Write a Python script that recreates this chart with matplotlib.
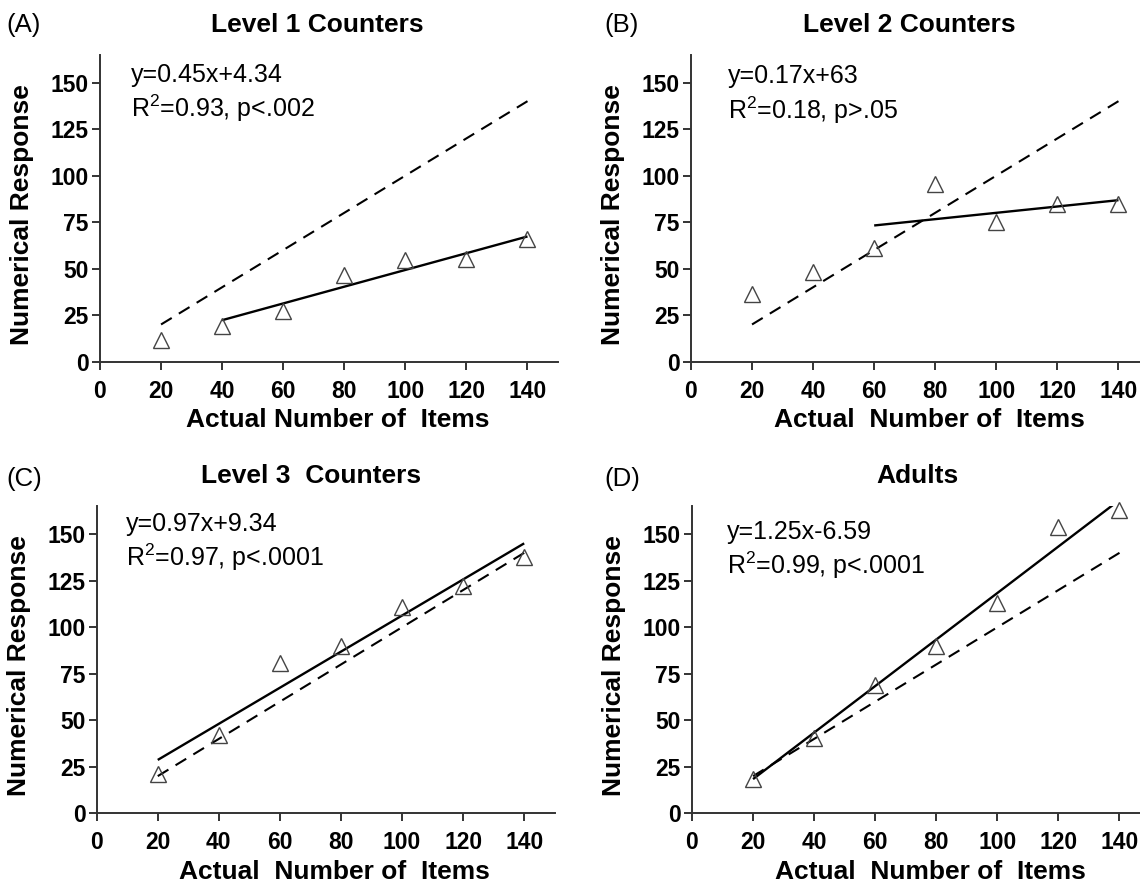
import matplotlib
matplotlib.use('Agg')
import matplotlib.pyplot as plt

plt.rcParams['font.family'] = ['Liberation Sans', 'DejaVu Sans']
plt.rcParams['mathtext.fontset'] = 'custom'
plt.rcParams['mathtext.rm'] = 'Liberation Sans'
plt.rcParams['mathtext.it'] = 'Liberation Sans:italic'

# data
items = [20, 40, 60, 80, 100, 120, 140]
level1 = [11.5, 19, 27, 46.5, 54.5, 55, 66]
level2 = [36.5, 48, 61, 95.5, 75, 85, 84.5]
level3 = [21, 42, 81, 90, 111, 122, 137.5]
adults = [18.5, 40.5, 69, 90, 113, 154, 163]

# regression line end points (from the printed equations)
fit1_x, fit1_y = [40, 140], [22.3, 67.3]
fit2_x, fit2_y = [60, 140], [73.2, 86.8]
fit3_x, fit3_y = [20, 140], [28.7, 145.1]
fit4_x, fit4_y = [20, 140], [18.4, 168.4]

# identity line
ref_x = [20, 140]
ref_y = [20, 140]

titles = ['Level 1 Counters', 'Level 2 Counters', 'Level 3  Counters', 'Adults']
letters = ['(A)', '(B)', '(C)', '(D)']
equations = ['y=0.45x+4.34', 'y=0.17x+63', 'y=0.97x+9.34', 'y=1.25x-6.59']
stats = ['R$^2$=0.93, p<.002', 'R$^2$=0.18, p>.05',
         'R$^2$=0.97, p<.0001', 'R$^2$=0.99, p<.0001']
xlabels = ['Actual Number of  Items', 'Actual  Number of  Items',
           'Actual  Number of  Items', 'Actual  Number of  Items']
xticks = [0, 20, 40, 60, 80, 100, 120, 140]
yticks = [0, 25, 50, 75, 100, 125, 150]

series = [level1, level2, level3, adults]
fits = [(fit1_x, fit1_y), (fit2_x, fit2_y), (fit3_x, fit3_y), (fit4_x, fit4_y)]

w, h = 0.4018, 0.3477
rects = [[0.0877, 0.5904, w, h], [0.6061, 0.5904, w, h],
         [0.0848, 0.0789, w, h], [0.6070, 0.0789, w, h]]
title_x = [0.474, 0.476, 0.469, 0.493]
text_pos = [(10.2, 150.5, 131.5), (12, 149.6, 130.5),
            (9.5, 152, 133), (11.4, 147.7, 128.6)]
letter_pos = [(0.006, 0.9717), (0.530, 0.9717), (0.006, 0.458), (0.530, 0.458)]

axc = '#333333'
fig = plt.figure(figsize=(11.4, 8.83), dpi=100)

for i in range(4):
    ax = fig.add_axes(rects[i])
    ax.plot(ref_x, ref_y, color='black', lw=1.5, dashes=(6, 4))
    ax.plot(fits[i][0], fits[i][1], color='black', lw=1.7, solid_capstyle='butt')
    ax.plot(items, series[i], ls='none', marker='^', ms=11, mfc='none',
            mec='#444444', mew=1.0, clip_on=False, zorder=3)

    ax.set_xlim(0, 150)
    ax.set_ylim(0, 165)
    ax.set_xticks(xticks)
    ax.set_yticks(yticks)
    for s in ['top', 'right']:
        ax.spines[s].set_visible(False)
    for s in ['left', 'bottom']:
        ax.spines[s].set_color(axc)
        ax.spines[s].set_linewidth(1.4)
    ax.tick_params(axis='x', length=6, width=1.4, color=axc, pad=7, labelsize=16.5)
    ax.tick_params(axis='y', length=6, width=1.4, color=axc, pad=2, labelsize=16.5)
    for lab in ax.get_xticklabels() + ax.get_yticklabels():
        lab.set_fontweight('bold')

    ax.set_xlabel(xlabels[i], fontsize=19, fontweight='bold')
    ax.set_ylabel('Numerical Response', fontsize=19, fontweight='bold')
    ax.xaxis.set_label_coords(0.52, -0.152)
    ax.yaxis.set_label_coords(-0.143, 0.48)

    ax.text(title_x[i], 1.098, titles[i], transform=ax.transAxes, ha='center',
            va='center', fontsize=19, fontweight='bold')
    tx, y1, y2 = text_pos[i]
    ax.text(tx, y1, equations[i], fontsize=18, va='baseline', ha='left')
    ax.text(tx, y2, stats[i], fontsize=18, va='baseline', ha='left')

    fig.text(letter_pos[i][0], letter_pos[i][1], letters[i], fontsize=18.5,
             ha='left', va='center')

fig.savefig('out.png', dpi=100, facecolor='white')
